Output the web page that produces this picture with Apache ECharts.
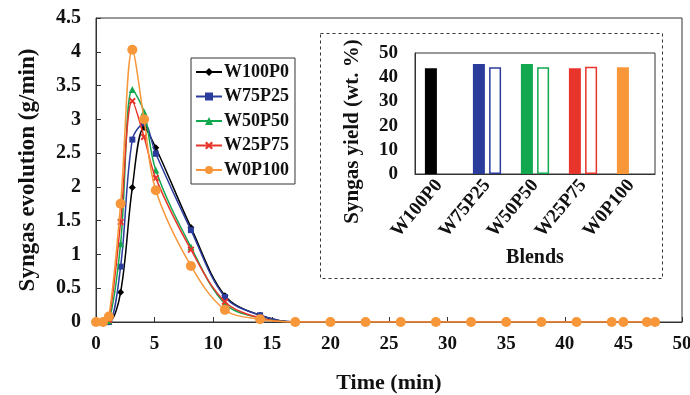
<!DOCTYPE html>
<html><head><meta charset="utf-8">
<script src="https://cdn.jsdelivr.net/npm/echarts@6/dist/echarts.min.js"></script>
<style>html,body{margin:0;padding:0;background:#fff}#c{width:690px;height:395px}</style>
</head><body><div id="c"></div>
<script>
var times = [0, 0.6, 1.1, 2.1, 3.1, 4.1, 5.1, 8.1, 11, 14, 17, 20, 23, 26, 29, 32, 35, 38, 41, 44, 45, 47, 47.7];
var tail = [0,0,0,0,0,0,0,0,0,0,0,0,0];
var W100P0 = [0, 0, 0, 0.44, 1.99, 2.88, 2.58, 1.40, 0.39, 0.10].concat(tail);
var W75P25 = [0, 0, 0, 0.82, 2.70, 2.94, 2.49, 1.36, 0.37, 0.10].concat(tail);
var W50P50 = [0, 0, 0.02, 1.16, 3.44, 3.11, 2.25, 1.11, 0.27, 0.06].concat(tail);
var W25P75 = [0, 0, 0.03, 1.48, 3.27, 2.74, 2.13, 1.07, 0.30, 0.06].concat(tail);
var W0P100 = [0, 0, 0.08, 1.75, 4.03, 3.00, 1.95, 0.83, 0.18, 0.04].concat(tail);
var seriesNames = ['W100P0', 'W75P25', 'W50P50', 'W25P75', 'W0P100'];
var blends = ['W100P0', 'W75P25', 'W50P50', 'W25P75', 'W0P100'];
var yieldFilled = [43.7, 45.5, 45.5, 43.7, 44.1];
var yieldHollow = [null, 44.1, 44.1, 44.3, null];
</script>
<script>
var colors = ['#000000', '#2b3d9c', '#12a84f', '#e8352b', '#f7973a'];
var font = 'Liberation Serif';
var xMarkPath = 'path://M2,0 L5,3 L8,0 L10,2 L7,5 L10,8 L8,10 L5,7 L2,10 L0,8 L3,5 L0,2 Z';
var symbols = ['diamond', 'rect', 'triangle', xMarkPath, 'circle'];
var sizes = [7, 6, 7, 7, 10];
var allData = [W100P0, W75P25, W50P50, W25P75, W0P100];

function pairs(arr) { return times.map(function (t, i) { return [t, arr[i]]; }); }

var series = seriesNames.map(function (n, k) {
  return {
    name: n, type: 'line', xAxisIndex: 0, yAxisIndex: 0,
    data: pairs(allData[k]), smooth: 0.35,
    symbol: symbols[k], symbolSize: sizes[k], showSymbol: true,
    lineStyle: { color: colors[k], width: 1.5 },
    itemStyle: { color: colors[k] },
    z: 2 + k
  };
});

series.push({
  type: 'bar', xAxisIndex: 1, yAxisIndex: 1, barWidth: 12, barGap: '35%',
  data: yieldFilled.map(function (v, i) { return { value: v, itemStyle: { color: colors[i] } }; }),
  z: 10
});
series.push({
  type: 'bar', xAxisIndex: 1, yAxisIndex: 1, barWidth: 12, barGap: '35%',
  data: yieldHollow.map(function (v, i) { return { value: v, itemStyle: { color: '#fff', borderColor: colors[i], borderWidth: 1.5 } }; }),
  z: 10
});

var boldText = { fontFamily: font, fontWeight: 'bold', color: '#111' };

var option = {
  animation: false,
  backgroundColor: '#fff',
  textStyle: { fontFamily: font },
  grid: [
    { left: 96, right: 8, top: 18, bottom: 73, show: true, borderColor: '#333', borderWidth: 1, containLabel: false, outerBoundsMode: 'none' },
    { left: 415, width: 240, top: 53, height: 121, show: true, borderColor: '#333', borderWidth: 1, z: 8, containLabel: false, outerBoundsMode: 'none' }
  ],
  graphic: {
    elements: [
      { type: 'rect', z: -10, shape: { x: 320.5, y: 33.5, width: 342, height: 245 }, style: { fill: 'rgba(255,255,255,0)', stroke: '#333', lineWidth: 1, lineDash: [3, 3] } }
    ]
  },
  legend: {
    data: seriesNames, orient: 'vertical', left: 191, top: 58,
    padding: [5, 6, 5, 4], itemGap: 6.5, itemWidth: 26, itemHeight: 10,
    borderColor: '#333', borderWidth: 1, backgroundColor: '#fff',
    textStyle: { fontFamily: font, fontWeight: 'bold', fontSize: 18, color: '#111', padding: [0, 0, 0, -3] }
  },
  xAxis: [
    {
      type: 'value', gridIndex: 0, min: 0, max: 50, interval: 5,
      name: 'Time (min)', nameLocation: 'middle', nameGap: 50,
      nameTextStyle: Object.assign({ fontSize: 22 }, boldText),
      axisLine: { lineStyle: { color: '#333' } },
      axisTick: { inside: true, length: 5, lineStyle: { color: '#333' } },
      axisLabel: Object.assign({ fontSize: 19, margin: 13 }, boldText),
      splitLine: { show: false }
    },
    {
      type: 'category', gridIndex: 1, data: blends, z: 12,
      name: 'Blends', nameLocation: 'middle', nameGap: 74,
      nameTextStyle: Object.assign({ fontSize: 20 }, boldText),
      axisLine: { lineStyle: { color: '#333' } },
      axisTick: { inside: true, length: 4, lineStyle: { color: '#333' } },
      axisLabel: Object.assign({ fontSize: 19, rotate: 50, margin: 8, interval: 0 }, boldText),
      splitLine: { show: false }
    }
  ],
  yAxis: [
    {
      type: 'value', gridIndex: 0, min: 0, max: 4.5, interval: 0.5,
      name: 'Syngas evolution (g/min)', nameLocation: 'middle', nameGap: 56,
      nameTextStyle: Object.assign({ fontSize: 23 }, boldText),
      axisLine: { show: true, lineStyle: { color: '#333' } },
      axisTick: { show: true, inside: true, length: 5, lineStyle: { color: '#333' } },
      axisLabel: Object.assign({ fontSize: 20, margin: 15 }, boldText),
      splitLine: { show: false }
    },
    {
      type: 'value', gridIndex: 1, min: 0, max: 50, interval: 10, z: 12,
      name: 'Syngas yield (wt. %)', nameLocation: 'middle', nameGap: 52,
      nameTextStyle: Object.assign({ fontSize: 21, padding: [0, 36, 0, 0] }, boldText),
      axisLine: { show: true, lineStyle: { color: '#333' } },
      axisTick: { show: false },
      axisLabel: Object.assign({ fontSize: 19, margin: 17 }, boldText),
      splitLine: { show: false }
    }
  ],
  series: series
};
var chart = echarts.init(document.getElementById('c'), null, { renderer: 'canvas' });
chart.setOption(option);
</script>
</body></html>
